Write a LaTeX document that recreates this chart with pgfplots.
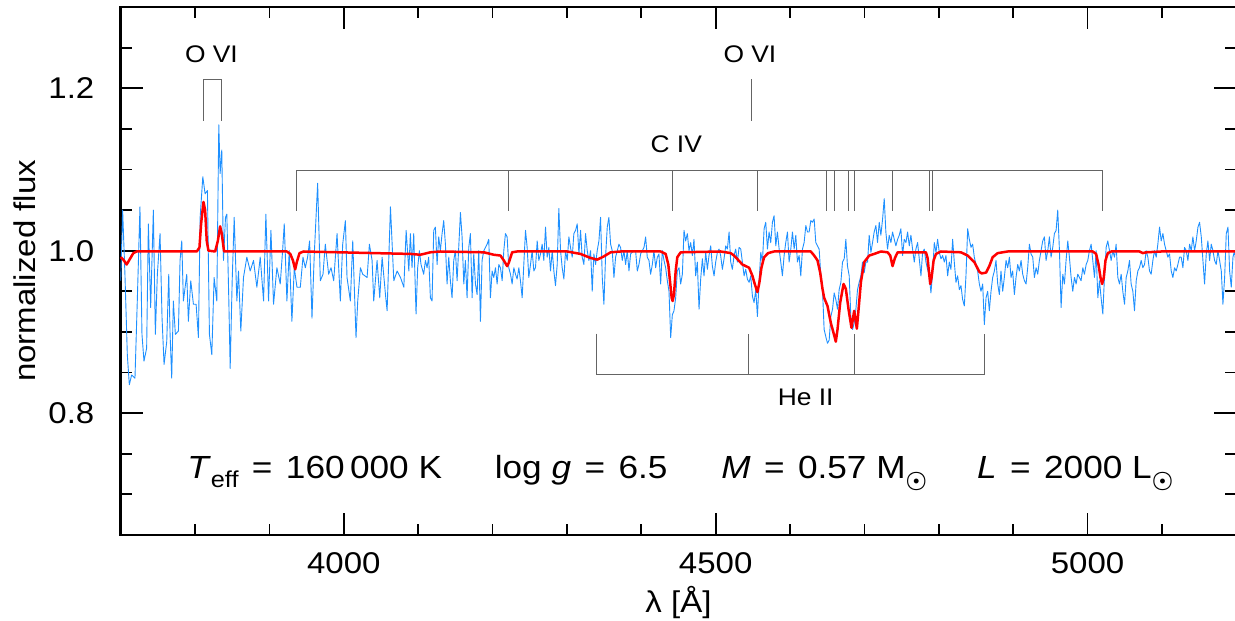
\documentclass[border=0pt]{standalone}
\usepackage{fontspec}
\setmainfont{Liberation Sans}[FakeStretch=1.1]
\usepackage{pgfplots}
\pgfplotsset{compat=1.18}
\definecolor{specblue}{RGB}{30,144,255}
\definecolor{idgray}{RGB}{100,100,100}
\newcommand{\sun}{\raisebox{-4.4pt}{\fontsize{13}{13}\selectfont\boldmath$\odot$}}
\newcommand{\eq}{\hspace{0.42em}=\hspace{0.42em}}
\begin{document}
\fontsize{15}{18}\selectfont
\begin{tikzpicture}
\begin{axis}[
  name=ax,
  scale only axis, width=557.8pt, height=264pt,
  xmin=3700, xmax=5200, ymin=0.65, ymax=1.30,
  axis line style={line width=1.2pt},
  tick style={line width=0.9pt, black},
  major tick length=11pt, minor tick length=5.5pt,
  tick align=inside,
  xtick={4000,4500,5000}, xticklabels={4000,4500,5000},
  minor xtick={3800,3900,4100,4200,4300,4400,4600,4700,4800,4900,5100},
  ytick={0.8,1.0,1.2}, yticklabels={0.8,1.0,1.2},
  minor ytick={0.7,0.75,0.85,0.9,0.95,1.05,1.1,1.15,1.25},
  xticklabel style={inner sep=0pt, anchor=north}, xticklabel shift=8.35pt,
  yticklabel style={inner sep=0pt, anchor=east}, yticklabel shift=13pt,
  xlabel={λ [Å]},
  xlabel style={at={(axis description cs:0.5,-0.1477)}, anchor=base, inner sep=0pt},
  ylabel={normalized flux},
  ylabel style={at={(axis description cs:-0.0768,0.5)}, anchor=base, inner sep=0pt},
  clip=false,
]
% observed spectrum
\addplot[specblue, line width=0.45pt, line join=round] coordinates {
(3700,0.963) (3702.6,1.050) (3705.7,0.971) (3708.9,0.872) (3711.6,0.835) (3714.7,0.847) (3719.2,0.843) (3722.3,0.938) (3725.9,1.054) (3728.6,0.897) (3731.3,0.864) (3734.9,0.880) (3737.2,1.033) (3740.3,0.930) (3743.9,1.050) (3746.6,0.897) (3749.3,0.971) (3752.9,1.021) (3755.6,0.917) (3758.3,0.860) (3761.9,0.888) (3764.6,0.971) (3766.4,0.897) (3768.6,0.843) (3770.8,0.938) (3773.5,0.897) (3777.6,0.901) (3779.8,0.988) (3782.1,1.012) (3784.3,0.938) (3788.8,0.971) (3791.0,0.913) (3794.2,0.963) (3797.8,0.934) (3801.4,0.934) (3804.5,0.893) (3806.8,1.041) (3810.4,1.091) (3813.5,1.070) (3816.6,1.074) (3819.3,0.897) (3822.5,0.872) (3825.6,0.967) (3829.2,0.938) (3831.9,1.155) (3833.7,1.095) (3835.9,1.124) (3838.2,0.988) (3840.9,1.041) (3842.7,1.045) (3845.4,0.938) (3847.2,0.855) (3849.9,0.963) (3852.6,1.041) (3856.2,0.938) (3858.4,0.975) (3861.5,0.901) (3865.1,0.967) (3869.6,0.992) (3874.1,0.975) (3878.6,0.988) (3883.1,0.955) (3887.6,0.992) (3892.1,0.938) (3895.2,1.045) (3898.8,0.938) (3902.0,1.025) (3905.5,0.934) (3910.0,0.979) (3914.5,0.959) (3917.7,1.000) (3919.9,1.033) (3923.5,0.938) (3926.6,1.000) (3930.2,0.913) (3933.4,0.979) (3937.0,0.955) (3941.5,0.955) (3945.1,0.992) (3948.2,0.979) (3951.3,0.992) (3954.0,1.012) (3957.2,0.917) (3960.3,0.996) (3964.8,1.083) (3968.4,0.963) (3972.0,0.971) (3975.1,1.008) (3979.6,0.971) (3982.8,0.979) (3986.4,0.963) (3990.9,1.021) (3995.3,0.938) (3998.5,1.008) (4002.1,1.037) (4004.3,0.967) (4008.8,0.938) (4012.0,1.012) (4016.4,0.893) (4018.7,0.938) (4022.3,0.979) (4025.4,0.971) (4031.3,0.967) (4034.4,1.008) (4038.0,0.988) (4040.2,0.938) (4044.7,0.988) (4048.3,0.942) (4051.5,0.992) (4056.0,0.946) (4058.2,0.926) (4062.7,1.054) (4067.2,0.963) (4071.7,0.975) (4076.2,0.967) (4080.7,0.955) (4083.8,1.025) (4087.4,0.975)
(4089.5,1.021) (4091.7,0.979) (4094.0,1.021) (4097.1,0.922) (4099.3,0.979) (4101.6,1.000) (4103.8,0.983) (4107.4,0.971) (4109.7,0.988) (4111.9,0.979) (4114.1,0.992) (4116.4,0.942) (4118.6,0.938) (4120.9,1.025) (4123.1,1.029) (4125.4,0.983) (4127.6,1.017) (4129.8,1.000) (4132.1,1.021) (4134.3,1.037) (4136.6,1.008) (4138.8,0.959) (4141.1,0.992) (4143.3,0.963) (4145.5,0.942) (4147.8,0.988) (4150.0,1.000) (4152.3,0.963) (4154.5,1.004) (4156.8,1.047) (4159.0,1.017) (4161.3,0.959) (4163.5,0.988) (4165.7,0.942) (4168.0,1.004) (4170.2,1.021) (4172.5,0.942) (4174.7,0.996) (4177.0,0.959) (4179.2,0.946) (4181.4,1.000) (4183.7,0.913) (4185.9,0.988) (4188.2,1.000) (4190.4,1.004) (4192.7,1.008) (4194.9,1.014) (4197.1,0.942) (4199.4,0.975) (4201.6,0.967) (4203.9,0.979) (4206.1,0.959) (4208.4,0.983) (4210.6,0.979) (4212.9,0.963) (4215.1,1.000) (4217.3,1.021) (4219.6,1.017) (4221.8,0.979) (4224.1,0.971) (4226.3,0.959) (4228.6,0.979) (4230.8,0.971) (4233.0,0.965) (4235.3,0.979) (4237.5,0.963) (4239.8,0.942) (4242.0,0.983) (4244.3,1.025) (4246.5,1.004) (4248.7,0.967) (4251.0,0.983) (4253.2,1.000) (4255.5,0.975) (4257.7,0.979) (4260.0,1.012) (4262.2,0.988) (4264.5,0.996) (4266.7,1.008) (4268.9,0.988) (4271.2,1.029) (4273.4,0.992) (4275.7,1.004) (4277.9,0.975) (4280.2,1.000) (4282.4,0.975) (4284.6,0.957) (4286.9,0.983) (4289.1,1.052) (4291.4,1.000) (4293.6,0.979) (4295.9,0.965) (4298.1,1.000) (4300.4,0.988) (4302.6,1.017) (4304.8,1.004) (4307.1,0.992) (4309.3,1.021) (4311.6,1.025) (4313.8,1.033) (4316.1,0.996) (4318.3,1.025) (4320.5,0.992) (4322.8,0.983) (4325.0,1.021) (4327.3,1.000) (4329.5,0.988) (4331.8,1.000) (4334.0,0.950) (4336.2,0.996) (4338.5,0.983) (4340.7,1.000) (4343.0,1.012) (4345.2,1.041) (4347.5,0.967) (4349.7,0.934) (4351.9,0.992) (4354.2,1.029) (4356.4,1.041) (4358.7,1.008) (4360.9,1.000) (4363.2,0.967) (4365.4,0.992) (4367.7,1.000) (4369.9,1.008) (4372.1,1.004) (4374.4,0.988) (4376.6,1.000) (4378.9,0.983) (4381.1,1.000) (4383.4,0.975) (4385.6,0.996) (4390.1,1.000) (4392.3,1.000) (4394.6,0.975) (4396.8,0.983) (4399.1,0.996) (4401.3,1.000) (4403.6,1.004) (4405.8,1.017) (4408.0,0.992) (4410.3,0.988) (4412.5,0.971) (4414.8,0.983) (4417.0,1.000) (4419.3,0.979) (4421.5,0.992) (4423.7,0.996) (4426.0,0.959) (4428.2,1.000) (4430.5,0.988) (4432.7,0.979) (4435.0,0.963) (4437.2,0.950) (4439.5,0.893) (4441.7,0.921) (4443.9,0.926) (4446.2,0.942) (4448.4,0.975) (4450.7,0.979) (4452.9,0.959) (4455.2,0.971) (4457.4,1.025) (4459.6,1.012) (4461.9,1.021) (4464.1,1.000)
(4466.4,1.010) (4468.6,0.994) (4470.8,1.014) (4473.1,0.969) (4475.3,0.986) (4477.6,0.928) (4479.8,0.965) (4482.1,0.990) (4484.3,0.969) (4486.6,0.998) (4488.8,0.977) (4491.0,0.994) (4493.3,1.006) (4495.5,0.981) (4497.8,0.969) (4500.0,0.986) (4502.3,0.998) (4504.5,1.002) (4506.7,0.994) (4509.0,0.977) (4511.2,0.990) (4513.5,1.006) (4515.7,1.002) (4518.0,1.023) (4520.2,0.986) (4522.4,0.977) (4524.7,0.994) (4526.9,1.002) (4529.2,0.986) (4531.4,1.004) (4533.7,1.002) (4535.9,0.986) (4538.2,0.969) (4540.4,0.977) (4542.6,0.965) (4544.9,0.961) (4547.1,0.969) (4549.4,0.944) (4551.6,0.936) (4553.9,0.952) (4556.1,0.919) (4558.3,0.961) (4560.6,0.998) (4562.8,0.986) (4565.1,1.027) (4567.3,1.035) (4569.6,1.002) (4571.8,1.023) (4574.0,1.010) (4576.3,1.035) (4578.5,1.043) (4580.8,1.006) (4583.0,1.023) (4585.3,1.002) (4587.5,0.986) (4589.7,0.969) (4592.0,0.994) (4594.2,1.010) (4596.5,1.023) (4598.7,0.986) (4601.0,1.002) (4603.2,1.023) (4605.5,1.002) (4607.7,1.019) (4609.9,0.986) (4612.2,0.994) (4614.4,0.969) (4616.7,1.002) (4618.9,1.010) (4621.2,1.031) (4623.4,1.023) (4625.6,1.023) (4627.9,1.037) (4630.1,1.035) (4632.4,1.039) (4634.6,1.010) (4636.9,1.006) (4639.1,1.002) (4641.4,0.969) (4643.6,0.952) (4645.8,0.903) (4648.1,0.894) (4650.3,0.886) (4652.6,0.890) (4654.8,0.919) (4657.1,0.928) (4659.3,0.948) (4661.5,0.940) (4663.8,0.928) (4666.0,0.952) (4668.3,0.961) (4670.5,0.986) (4672.8,0.990) (4675.0,1.014) (4677.2,0.981) (4679.5,0.969) (4681.7,0.919) (4684.0,0.903) (4686.2,0.911) (4688.5,0.928) (4690.7,0.952) (4692.9,0.961) (4695.2,0.969) (4697.4,0.986) (4699.7,0.973) (4701.9,0.986) (4704.2,0.986) (4706.4,1.019) (4708.7,0.998) (4710.9,1.010) (4713.1,1.023) (4715.4,1.031) (4717.6,1.010) (4719.9,1.035) (4722.1,1.019) (4724.4,1.039) (4726.6,1.064) (4728.8,1.023) (4731.1,1.002) (4733.3,1.019) (4735.6,1.010) (4737.8,1.023) (4740.1,1.014) (4742.3,1.006) (4744.6,1.014) (4746.8,1.019) (4749.0,1.027) (4751.3,0.994) (4753.5,1.014) (4755.8,1.010) (4758.0,1.023) (4760.3,1.006) (4762.5,1.019) (4764.7,1.002) (4767.0,0.986) (4769.2,1.002) (4771.5,1.010) (4773.7,0.990) (4776.0,0.969) (4778.2,0.998) (4780.4,1.002) (4782.7,0.986) (4784.9,0.977) (4787.2,0.969) (4789.4,0.948) (4791.7,0.973) (4793.9,1.010) (4796.2,0.998) (4798.4,1.014) (4800.6,0.998) (4802.9,0.990) (4805.1,0.994) (4807.4,0.986) (4809.6,0.994) (4811.9,0.969) (4814.1,0.986) (4816.3,0.977) (4818.6,1.014) (4820.8,0.986) (4823.1,0.961) (4825.3,0.969) (4827.6,0.952) (4829.8,0.957) (4832.0,0.940) (4834.3,0.932) (4836.5,0.969) (4838.8,1.027) (4841.0,1.014)
(4843.3,1.004) (4845.5,1.008) (4847.7,0.992) (4850.0,0.983) (4852.2,0.975) (4854.5,0.959) (4856.7,0.950) (4859.0,0.959) (4861.2,0.909) (4863.5,0.942) (4865.7,0.950) (4867.9,0.926) (4870.2,0.950) (4872.4,0.967) (4874.7,0.975) (4876.9,0.988) (4879.2,0.959) (4881.4,0.946) (4883.6,0.975) (4885.9,0.950) (4888.1,0.967) (4890.4,0.988) (4892.6,0.979) (4894.9,0.992) (4897.1,0.967) (4899.3,0.975) (4901.6,0.946) (4903.8,0.967) (4906.1,0.983) (4908.3,0.975) (4910.6,0.988) (4912.8,0.971) (4915.1,0.963) (4917.3,0.959) (4919.5,0.979) (4921.8,1.008) (4924.0,0.996) (4926.3,0.992) (4928.5,0.967) (4930.8,0.979) (4933.0,0.971) (4935.2,0.988) (4937.5,1.000) (4939.7,1.012) (4942.0,1.017) (4944.2,0.988) (4946.5,1.000) (4948.7,1.017) (4950.9,0.992) (4953.2,1.004) (4955.4,1.021) (4957.7,1.025) (4959.9,1.050) (4962.2,1.000) (4964.4,0.930) (4966.7,0.971) (4968.9,0.959) (4971.1,0.988) (4973.4,1.012) (4975.6,0.992) (4977.9,0.967) (4980.1,0.950) (4982.4,0.967) (4984.6,0.959) (4986.8,0.971) (4989.1,0.967) (4991.3,0.963) (4993.6,0.979) (4995.8,0.971) (4998.1,0.983) (5000.3,0.988) (5002.5,1.000) (5004.8,1.008) (5007.0,0.988) (5009.3,0.967) (5011.5,1.000) (5013.8,0.942) (5016.0,0.963) (5018.2,0.942) (5020.5,0.922) (5022.7,0.967) (5025.0,1.004) (5027.2,1.012) (5029.5,1.000) (5031.7,0.988) (5033.9,1.000) (5036.2,0.992) (5038.4,1.008) (5040.7,0.967) (5042.9,0.959) (5045.2,0.971) (5047.4,0.950) (5049.7,0.934) (5051.9,0.967) (5054.1,0.975) (5056.4,0.988) (5058.6,0.959) (5060.9,0.950) (5063.1,0.926) (5065.4,0.963) (5067.6,0.975) (5069.8,0.979) (5072.1,0.988) (5074.3,0.979) (5076.6,0.983) (5078.8,1.000) (5081.1,0.992) (5083.3,0.975) (5085.5,0.971) (5087.8,0.988) (5090.0,1.000) (5092.3,0.992) (5094.5,1.008) (5096.8,1.029) (5099.0,1.012) (5101.3,1.021) (5103.5,1.008) (5105.7,1.000) (5108.0,0.992) (5110.2,0.996) (5112.5,0.975) (5114.7,0.967) (5117.0,0.979) (5119.2,0.975) (5121.4,0.983) (5123.7,0.992) (5125.9,0.992) (5128.2,0.979) (5130.4,1.004) (5132.7,1.000) (5134.9,0.988) (5137.2,1.008) (5139.4,1.000) (5141.6,1.017) (5143.9,1.000) (5146.1,1.012) (5148.4,1.029) (5150.6,1.035) (5152.9,1.017) (5155.1,0.988) (5157.3,0.959) (5159.6,0.996) (5161.8,1.012) (5164.1,0.988) (5166.3,1.008) (5168.6,1.000) (5170.8,0.988) (5173.0,0.983) (5175.3,1.000) (5177.5,0.988) (5179.8,0.975) (5182.0,0.934) (5184.3,0.967) (5186.5,1.021) (5188.8,1.029) (5191.0,0.975) (5193.2,0.955) (5195.5,0.992) (5197.7,1.000) (5200.0,0.975)
};
% model spectrum
\addplot[red, line width=1.25pt, line join=round] coordinates {
(3700,0.992) (3703.5,0.989) (3708,0.983) (3712.5,0.990) (3717,0.997) (3721.5,0.999) (3802.3,0.999) (3805.9,1.004) (3808.1,1.033) (3811.3,1.060) (3813.5,1.050) (3815.7,1.012) (3818,1.000) (3827,0.999) (3830.6,1.012) (3833.7,1.030) (3835.9,1.021) (3839,0.999) (3923.5,0.999) (3928,0.996) (3931.6,0.988) (3934.6,0.977) (3936.8,0.986) (3940.4,0.997) (3945.9,0.999) (4089.5,0.996) (4102.9,0.995) (4116.4,0.998) (4129.8,0.999) (4188.2,0.998) (4201.6,0.995) (4210.6,0.994) (4215.1,0.988) (4219.6,0.981) (4221.8,0.985) (4226.3,0.998) (4233,0.999) (4300.4,0.999) (4318.3,0.996) (4331.8,0.991) (4340.7,0.989) (4349.7,0.993) (4358.7,0.998) (4372.1,0.999) (4426,0.999) (4432.7,0.996) (4436.3,0.983) (4438.5,0.963) (4440.8,0.942) (4442.1,0.938) (4443.9,0.946) (4446.2,0.975) (4448.4,0.992) (4452.9,0.998) (4506.7,0.999) (4520.2,0.997) (4524.7,0.994) (4535.9,0.983) (4540.4,0.981) (4544.9,0.979) (4549.4,0.969) (4552.5,0.959) (4556.1,0.949) (4558.8,0.961) (4561.5,0.979) (4565.1,0.992) (4570.5,0.997) (4578.5,0.999) (4627.9,0.999) (4632.4,0.994) (4636.9,0.988) (4640.5,0.973) (4643.6,0.953) (4645.8,0.942) (4650.3,0.932) (4654.8,0.911) (4658.4,0.899) (4661.5,0.888) (4663.8,0.903) (4667.4,0.936) (4671.9,0.959) (4675.0,0.953) (4678.6,0.928) (4682.6,0.905) (4686.2,0.926) (4689.8,0.904) (4692.9,0.936) (4695.2,0.961) (4699.7,0.986) (4706.4,0.994) (4713.1,0.996) (4722.1,0.999) (4731.1,0.998) (4734.7,0.994) (4737.8,0.981) (4741.0,0.991) (4744.6,0.998) (4782.7,0.998) (4784.9,0.991) (4787.2,0.970) (4788.5,0.959) (4790.3,0.967) (4793.0,0.988) (4796.2,0.996) (4802.9,0.999) (4829.8,0.998) (4838.8,0.994) (4847.7,0.986) (4854.5,0.974) (4857.6,0.972) (4863.5,0.973) (4867.9,0.981) (4872.4,0.992) (4879.2,0.997) (4892.6,0.999) (5007,0.999) (5011.5,0.996) (5014.7,0.983) (5017.4,0.967) (5019.6,0.959) (5021.8,0.967) (5024.1,0.988) (5027.2,0.997) (5031.7,0.999) (5069.8,0.999) (5074.3,0.997) (5078.8,0.998) (5099,0.999) (5200,0.999)
};
% line identifications
\addplot[idgray, line width=0.6pt] coordinates {(3811.2,1.160) (3811.2,1.2108) (3835.0,1.2108) (3835.0,1.160)};
\addplot[idgray, line width=0.6pt] coordinates {(4548,1.160) (4548,1.2108)};
\addplot[idgray, line width=0.6pt] coordinates {(3936,1.049) (3936,1.099) (5020,1.099) (5020,1.049)};
\addplot[idgray, line width=0.6pt] coordinates {(4221,1.099) (4221,1.049)};
\addplot[idgray, line width=0.6pt] coordinates {(4442,1.099) (4442,1.049)};
\addplot[idgray, line width=0.6pt] coordinates {(4555.7,1.099) (4555.7,1.049)};
\addplot[idgray, line width=0.6pt] coordinates {(4649,1.099) (4649,1.049)};
\addplot[idgray, line width=0.6pt] coordinates {(4660,1.099) (4660,1.049)};
\addplot[idgray, line width=0.6pt] coordinates {(4679,1.099) (4679,1.049)};
\addplot[idgray, line width=0.6pt] coordinates {(4687,1.099) (4687,1.049)};
\addplot[idgray, line width=0.6pt] coordinates {(4738,1.099) (4738,1.049)};
\addplot[idgray, line width=0.6pt] coordinates {(4788,1.099) (4788,1.049)};
\addplot[idgray, line width=0.6pt] coordinates {(4791,1.099) (4791,1.049)};
\addplot[idgray, line width=0.6pt] coordinates {(4340,0.898) (4340,0.848) (4861,0.848) (4861,0.898)};
\addplot[idgray, line width=0.6pt] coordinates {(4544,0.848) (4544,0.898)};
\addplot[idgray, line width=0.6pt] coordinates {(4687,0.848) (4687,0.898)};
% labels
\node[font=\fontsize{12}{12}\selectfont, inner sep=0pt] at (axis cs:3822,1.242) {O VI};
\node[font=\fontsize{12}{12}\selectfont, inner sep=0pt] at (axis cs:4546,1.242) {O VI};
\node[font=\fontsize{12}{12}\selectfont, inner sep=0pt] at (axis cs:4447,1.131) {C IV};
\node[font=\fontsize{12}{12}\selectfont, inner sep=0pt] at (axis cs:4621,0.8196) {He II};
\begin{scope}[every node/.style={anchor=base west, inner sep=0pt, font=\fontsize{16}{18}\selectfont}]
\node at (axis cs:3789,0.719) {\textit{T}\raisebox{-4.3pt}{\fontsize{11.5}{11}\selectfont eff}\eq 160\,000 K};
\node at (axis cs:4202.5,0.719) {log \textit{g}\eq 6.5};
\node at (axis cs:4507,0.719) {\textit{M}\eq 0.57 M\sun};
\node at (axis cs:4851,0.719) {\textit{L}\eq 2000 L\sun};
\end{scope}
\end{axis}
\pgfresetboundingbox
\path[use as bounding box] ([shift={(-60.35pt,-43pt)}]ax.south west) rectangle ([shift={(557.15pt,3.5pt)}]ax.north west);
\end{tikzpicture}
\end{document}
